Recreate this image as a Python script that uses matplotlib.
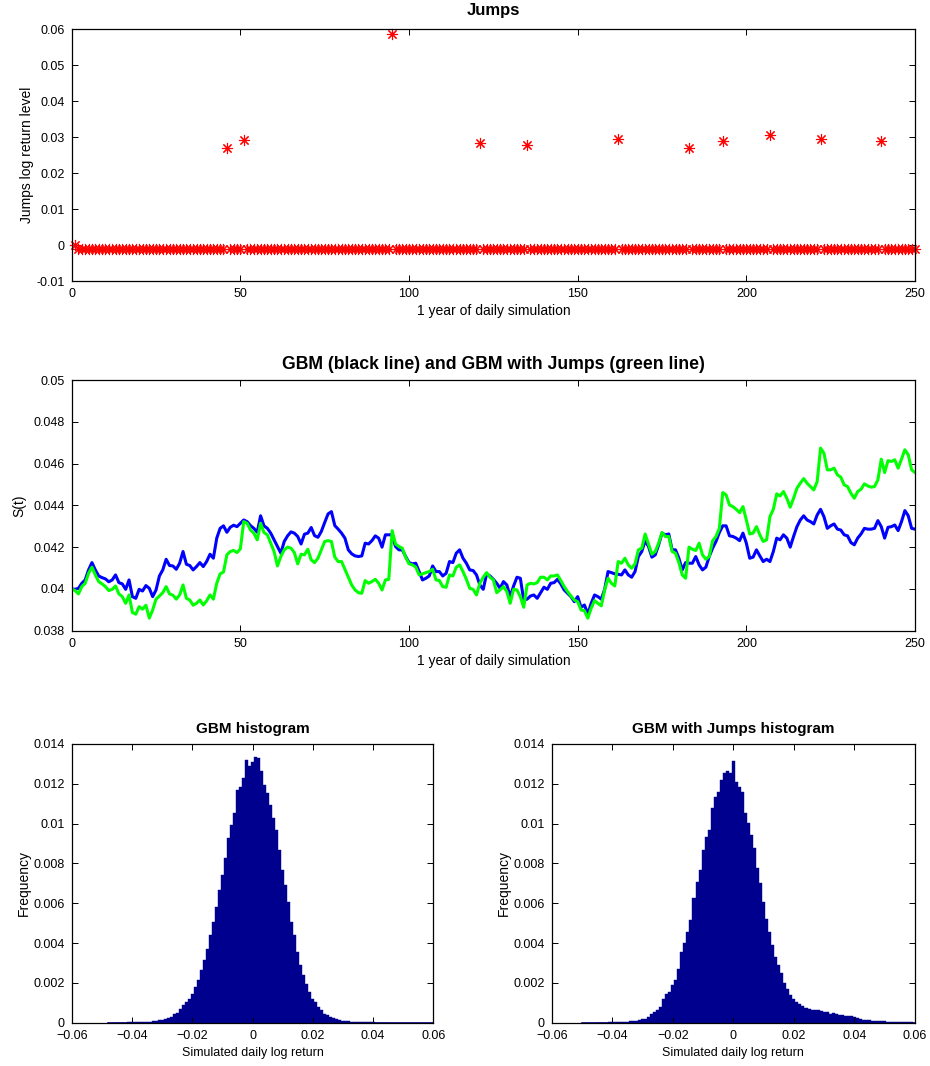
import numpy as np
import matplotlib
matplotlib.use("Agg")
import matplotlib.pyplot as plt
from matplotlib.ticker import FuncFormatter, MultipleLocator

plt.rcParams['font.family'] = ['Liberation Sans', 'DejaVu Sans']

# ---------------- data ----------------
# Jumps subplot: daily jump log-return level (days 1..250)
n_days = 250
jump_first_value = 0.0          # day 1
jump_base_level = -0.0011       # compensated level on no-jump days
jump_days = [46, 51, 95, 121, 135, 162, 183, 193, 207, 222, 240]
jump_sizes = [0.0271, 0.0293, 0.0588, 0.0285, 0.0279, 0.0295, 0.0271,
              0.0289, 0.0305, 0.0295, 0.0289]

# GBM path (blue), days 0..79, 80..162, 163..250
gbm_a = [0.04000, 0.03998, 0.04003, 0.04027, 0.04043, 0.04091, 0.04126, 0.04091, 0.04062, 0.04054,
         0.04048, 0.04034, 0.04043, 0.04067, 0.04030, 0.04024, 0.03998, 0.04043, 0.03963, 0.03955,
         0.03998, 0.03990, 0.04016, 0.04003, 0.03963, 0.03995, 0.04062, 0.04091, 0.04142, 0.04112,
         0.04110, 0.04094, 0.04123, 0.04179, 0.04118, 0.04112, 0.04091, 0.04107, 0.04126, 0.04107,
         0.04131, 0.04166, 0.04147, 0.04243, 0.04290, 0.04302, 0.04271, 0.04295, 0.04305, 0.04298,
         0.04314, 0.04330, 0.04322, 0.04303, 0.04290, 0.04271, 0.04350, 0.04302, 0.04290,
         0.04267, 0.04235, 0.04203, 0.04171, 0.04227, 0.04254, 0.04273, 0.04267, 0.04251, 0.04215,
         0.04262, 0.04267, 0.04294, 0.04255, 0.04247, 0.04275, 0.04318, 0.04359, 0.04370, 0.04303,
         0.04286]
gbm_b = [0.04267, 0.04243, 0.04187, 0.04168, 0.04158, 0.04155, 0.04158, 0.04219, 0.04215, 0.04231,
         0.04254, 0.04243, 0.04200, 0.04259, 0.04259, 0.04259, 0.04203, 0.04187, 0.04187, 0.04155,
         0.04126, 0.04120, 0.04123, 0.04083, 0.04043, 0.04051, 0.04062, 0.04110, 0.04083, 0.04083,
         0.04062, 0.04075, 0.04131, 0.04126, 0.04171, 0.04187, 0.04147, 0.04123, 0.04091, 0.04088,
         0.04067, 0.04019, 0.03998, 0.04072, 0.04062, 0.04046, 0.04027, 0.04003, 0.04035, 0.04019,
         0.03963, 0.04014, 0.04056, 0.04051, 0.03947, 0.03951, 0.03966, 0.03971, 0.03955, 0.03982,
         0.04008, 0.03998, 0.04027, 0.04030, 0.04046, 0.04024, 0.03995, 0.03979, 0.03963, 0.03939,
         0.03963, 0.03912, 0.03923, 0.03880, 0.03931, 0.03971, 0.03963, 0.03951, 0.03998, 0.04083,
         0.04078, 0.04072, 0.04070]
gbm_c = [0.04067, 0.04091, 0.04067, 0.04056, 0.04083, 0.04155, 0.04179, 0.04231, 0.04203, 0.04152,
         0.04163, 0.04211, 0.04267, 0.04259, 0.04263, 0.04187, 0.04187, 0.04147, 0.04091, 0.04126,
         0.04123, 0.04123, 0.04155, 0.04115, 0.04091, 0.04104, 0.04155, 0.04195, 0.04227, 0.04270,
         0.04302, 0.04302, 0.04254, 0.04251, 0.04243, 0.04231, 0.04267, 0.04219, 0.04147, 0.04152,
         0.04187, 0.04158, 0.04131, 0.04142, 0.04131, 0.04179, 0.04243, 0.04235, 0.04259, 0.04243,
         0.04200, 0.04251, 0.04298, 0.04330, 0.04350, 0.04330, 0.04322, 0.04311, 0.04354, 0.04381,
         0.04346, 0.04290, 0.04302, 0.04311, 0.04286, 0.04282, 0.04259, 0.04254, 0.04222, 0.04211,
         0.04243, 0.04263, 0.04290, 0.04286, 0.04286, 0.04290, 0.04327, 0.04298, 0.04243, 0.04295,
         0.04298, 0.04306, 0.04279, 0.04322, 0.04375, 0.04350, 0.04290, 0.04286]

# GBM with jumps path (green), days 0..79, 80..162, 163..250
jmp_a = [0.04000, 0.03992, 0.03976, 0.04011, 0.04027, 0.04075, 0.04104, 0.04067, 0.04035, 0.04024,
         0.04011, 0.03992, 0.03998, 0.04014, 0.03976, 0.03963, 0.03931, 0.03971, 0.03887, 0.03879,
         0.03915, 0.03903, 0.03922, 0.03860, 0.03899, 0.03951, 0.03966, 0.03982, 0.04011, 0.03976,
         0.03970, 0.03951, 0.03971, 0.04019, 0.03955, 0.03947, 0.03922, 0.03931, 0.03947, 0.03923,
         0.03943, 0.03971, 0.03951, 0.04027, 0.04072, 0.04081, 0.04163, 0.04179, 0.04184, 0.04174,
         0.04192, 0.04322, 0.04314, 0.04282, 0.04267, 0.04235, 0.04314, 0.04270, 0.04259,
         0.04219, 0.04179, 0.04110, 0.04155, 0.04187, 0.04200, 0.04195, 0.04174, 0.04120, 0.04166,
         0.04163, 0.04190, 0.04139, 0.04126, 0.04147, 0.04187, 0.04227, 0.04231, 0.04227, 0.04152,
         0.04131]
jmp_b = [0.04131, 0.04094, 0.04056, 0.04019, 0.03995, 0.03982, 0.03979, 0.04040, 0.04027, 0.04035,
         0.04046, 0.04027, 0.03995, 0.04043, 0.04046, 0.04279, 0.04215, 0.04203, 0.04195, 0.04152,
         0.04120, 0.04115, 0.04104, 0.04067, 0.04072, 0.04078, 0.04083, 0.04094, 0.04043, 0.04040,
         0.04011, 0.04008, 0.04067, 0.04062, 0.04104, 0.04115, 0.04083, 0.04046, 0.04003, 0.03998,
         0.03971, 0.04027, 0.04056, 0.04078, 0.04056, 0.04043, 0.03982, 0.03995, 0.04011, 0.03987,
         0.03931, 0.03998, 0.03995, 0.03963, 0.03912, 0.04019, 0.04027, 0.04024, 0.04030, 0.04056,
         0.04056, 0.04043, 0.04062, 0.04062, 0.04067, 0.04040, 0.04011, 0.03987, 0.03966, 0.03947,
         0.03939, 0.03899, 0.03896, 0.03860, 0.03907, 0.03944, 0.03931, 0.03919, 0.03995, 0.04051,
         0.04027, 0.04014, 0.04131]
jmp_c = [0.04123, 0.04147, 0.04115, 0.04099, 0.04120, 0.04187, 0.04195, 0.04263, 0.04215, 0.04166,
         0.04179, 0.04219, 0.04270, 0.04251, 0.04251, 0.04179, 0.04171, 0.04126, 0.04067, 0.04051,
         0.04200, 0.04190, 0.04184, 0.04219, 0.04163, 0.04142, 0.04155, 0.04230, 0.04251, 0.04290,
         0.04461, 0.04450, 0.04402, 0.04394, 0.04381, 0.04365, 0.04394, 0.04330, 0.04263, 0.04267,
         0.04298, 0.04259, 0.04227, 0.04235, 0.04346, 0.04381, 0.04455, 0.04445, 0.04466, 0.04434,
         0.04391, 0.04434, 0.04482, 0.04506, 0.04528, 0.04506, 0.04490, 0.04474, 0.04514, 0.04674,
         0.04650, 0.04570, 0.04570, 0.04578, 0.04546, 0.04535, 0.04498, 0.04490, 0.04458, 0.04434,
         0.04466, 0.04477, 0.04503, 0.04493, 0.04487, 0.04490, 0.04522, 0.04621, 0.04557, 0.04614,
         0.04610, 0.04618, 0.04578, 0.04621, 0.04666, 0.04642, 0.04570, 0.04557]

# Histograms: bin centres (step 0.001) and frequencies
gbm_hist_first, gbm_hist_last = -0.045, 0.045
gbm_hist_freq = [0.00001, 0.00001, 0.00001, 0.00001, 0.00002, 0.00002, 0.00002, 0.00003, 0.00003, 0.00004,
                 0.00005, 0.00006, 0.00008, 0.00010, 0.00012, 0.00014,
                 0.00017, 0.00023, 0.00029, 0.00045, 0.00050, 0.00070, 0.00087, 0.00104, 0.00121, 0.00146,
                 0.00180, 0.00213, 0.00263, 0.00314, 0.00372, 0.00440, 0.00507, 0.00582, 0.00666, 0.00742,
                 0.00826, 0.00926, 0.00993, 0.01052, 0.01169, 0.01186, 0.01228, 0.01320, 0.01287, 0.01312,
                 0.01337, 0.01329, 0.01262, 0.01195, 0.01153, 0.01094, 0.01027, 0.00968, 0.00867, 0.00767,
                 0.00691, 0.00607, 0.00507, 0.00440, 0.00356, 0.00289, 0.00238, 0.00196, 0.00154, 0.00121,
                 0.00104, 0.00079, 0.00062, 0.00045, 0.00037, 0.00029, 0.00023, 0.00017,
                 0.00014, 0.00011, 0.00009, 0.00007, 0.00006, 0.00005, 0.00004, 0.00003, 0.00003, 0.00002,
                 0.00002, 0.00002, 0.00001, 0.00001, 0.00001, 0.00001, 0.00001]
jmp_hist_first, jmp_hist_last = -0.045, 0.059
jmp_hist_freq = [0.00001, 0.00001, 0.00001, 0.00001, 0.00002, 0.00002, 0.00003, 0.00003, 0.00004, 0.00005,
                 0.00006, 0.00007, 0.00009, 0.00011, 0.00014, 0.00017,
                 0.00020, 0.00029, 0.00045, 0.00054, 0.00062, 0.00079, 0.00121, 0.00146, 0.00154, 0.00188,
                 0.00213, 0.00272, 0.00356, 0.00398, 0.00456, 0.00515, 0.00624, 0.00708, 0.00767, 0.00867,
                 0.00935, 0.00968, 0.01077, 0.01136, 0.01161, 0.01220, 0.01253, 0.01262, 0.01253, 0.01315,
                 0.01211, 0.01186, 0.01161, 0.01052, 0.01002, 0.00943, 0.00876, 0.00775, 0.00700, 0.00607,
                 0.00523, 0.00456, 0.00389,
                 0.00330, 0.00290, 0.00250, 0.00200, 0.00170, 0.00140, 0.00120, 0.00105, 0.00095, 0.00085,
                 0.00075, 0.00070, 0.00065, 0.00062, 0.00062, 0.00057, 0.00053, 0.00053, 0.00045, 0.00050,
                 0.00045, 0.00040, 0.00037, 0.00033, 0.00033, 0.00032, 0.00028, 0.00023, 0.00018, 0.00015,
                 0.00015, 0.00012, 0.00010, 0.00010, 0.00010, 0.00008, 0.00007, 0.00006, 0.00006, 0.00006,
                 0.00005, 0.00005, 0.00005, 0.00005, 0.00004, 0.00004]

# ---------------- assemble ----------------
gbm = np.array(gbm_a + gbm_b + gbm_c)
jmp = np.array(jmp_a + jmp_b + jmp_c)
assert len(gbm_a) == 80 and len(gbm_b) == 83 and len(gbm_c) == 88, (len(gbm_a), len(gbm_b), len(gbm_c))
assert len(jmp_a) == 80 and len(jmp_b) == 83 and len(jmp_c) == 88, (len(jmp_a), len(jmp_b), len(jmp_c))
days_path = np.arange(len(gbm))

jump_x = np.arange(1, n_days + 1)
jump_y = np.full(n_days, jump_base_level)
jump_y[0] = jump_first_value
for d, s in zip(jump_days, jump_sizes):
    jump_y[d - 1] = s

bw = 0.001
gbm_centers = np.round(np.arange(round((gbm_hist_last - gbm_hist_first) / bw) + 1) * bw + gbm_hist_first, 4)
jmp_centers = np.round(np.arange(round((jmp_hist_last - jmp_hist_first) / bw) + 1) * bw + jmp_hist_first, 4)
assert len(gbm_centers) == len(gbm_hist_freq), (len(gbm_centers), len(gbm_hist_freq))
assert len(jmp_centers) == len(jmp_hist_freq), (len(jmp_centers), len(jmp_hist_freq))

# ---------------- figure ----------------
W, H = 930, 1066
fig = plt.figure(figsize=(W / 100, H / 100), dpi=100)

def rect(x0, y0, x1, y1):
    return [x0 / W, 1 - y1 / H, (x1 - x0) / W, (y1 - y0) / H]

fs_tick = 9
fs_lab = 10
fs_hist_xlab = 9
fs_title_top = 12
fs_title_mid = 12.7
fs_title_hist = 11

def style(ax):
    ax.tick_params(direction='in', top=True, right=True, length=4, width=0.7,
                   labelsize=fs_tick, pad=5)
    for sp in ax.spines.values():
        sp.set_linewidth(0.9)

fmt_g = FuncFormatter(lambda v, p: f"{v:g}" if abs(v) > 1e-12 else "0")
fmt_m = FuncFormatter(lambda v, p: (f"{v:g}".replace('-', '\u2212')) if abs(v) > 1e-12 else "0")

# Top: jumps
ax1 = fig.add_axes(rect(71.7, 29.3, 915, 281))
ax1.plot(jump_x, jump_y, linestyle='none', marker=(8, 2, 0), markersize=8,
         markeredgewidth=0.8, color='#ff0000', clip_on=False)
ax1.set_xlim(0, 250)
ax1.set_ylim(-0.01, 0.06)
ax1.xaxis.set_major_locator(MultipleLocator(50))
ax1.yaxis.set_major_locator(MultipleLocator(0.01))
ax1.yaxis.set_major_formatter(fmt_g)
ax1.set_title('Jumps', fontsize=fs_title_top, fontweight='bold', pad=10)
ax1.set_xlabel('1 year of daily simulation', fontsize=fs_lab, labelpad=3)
ax1.set_ylabel('Jumps log return level', fontsize=fs_lab, labelpad=2)
style(ax1)

# Middle: paths
ax2 = fig.add_axes(rect(71.7, 380, 915, 630.7))
ax2.plot(days_path, gbm, color='#0000ff', linewidth=2.2)
ax2.plot(days_path, jmp, color='#00ff00', linewidth=2.2)
ax2.set_xlim(0, 250)
ax2.set_ylim(0.038, 0.05)
ax2.xaxis.set_major_locator(MultipleLocator(50))
ax2.yaxis.set_major_locator(MultipleLocator(0.002))
ax2.yaxis.set_major_formatter(fmt_g)
ax2.set_title('GBM (black line) and GBM with Jumps (green line)', fontsize=fs_title_mid,
              fontweight='bold', pad=8)
ax2.set_xlabel('1 year of daily simulation', fontsize=fs_lab, labelpad=3)
ax2.set_ylabel('S(t)', fontsize=fs_lab, labelpad=5)
style(ax2)

navy = '#00008f'

# Bottom left: GBM histogram
ax3 = fig.add_axes(rect(71.7, 744, 433.3, 1022.7))
ax3.bar(gbm_centers, gbm_hist_freq, width=bw, color=navy, edgecolor=navy, linewidth=0.3)
ax3.axhline(0, xmin=(-0.048 + 0.06) / 0.12, xmax=1, color=navy, linewidth=1.2)
ax3.set_xlim(-0.06, 0.06)
ax3.set_ylim(0, 0.014)
ax3.xaxis.set_major_locator(MultipleLocator(0.02))
ax3.yaxis.set_major_locator(MultipleLocator(0.002))
ax3.xaxis.set_major_formatter(fmt_m)
ax3.yaxis.set_major_formatter(fmt_g)
ax3.set_title('GBM histogram', fontsize=fs_title_hist, fontweight='bold', pad=8)
ax3.set_xlabel('Simulated daily log return', fontsize=fs_hist_xlab, labelpad=4)
ax3.set_ylabel('Frequency', fontsize=fs_lab, labelpad=2)
style(ax3)

# Bottom right: GBM with jumps histogram
ax4 = fig.add_axes(rect(551.7, 744, 915, 1022.7))
ax4.bar(jmp_centers, jmp_hist_freq, width=bw, color=navy, edgecolor=navy, linewidth=0.3)
ax4.axhline(0, xmin=(-0.05 + 0.06) / 0.12, xmax=1, color=navy, linewidth=1.2)
ax4.set_xlim(-0.06, 0.06)
ax4.set_ylim(0, 0.014)
ax4.xaxis.set_major_locator(MultipleLocator(0.02))
ax4.yaxis.set_major_locator(MultipleLocator(0.002))
ax4.xaxis.set_major_formatter(fmt_m)
ax4.yaxis.set_major_formatter(fmt_g)
ax4.set_title('GBM with Jumps histogram', fontsize=fs_title_hist, fontweight='bold', pad=8)
ax4.set_xlabel('Simulated daily log return', fontsize=fs_hist_xlab, labelpad=4)
ax4.set_ylabel('Frequency', fontsize=fs_lab, labelpad=2)
style(ax4)

fig.savefig('out.png', dpi=100, facecolor='white')
